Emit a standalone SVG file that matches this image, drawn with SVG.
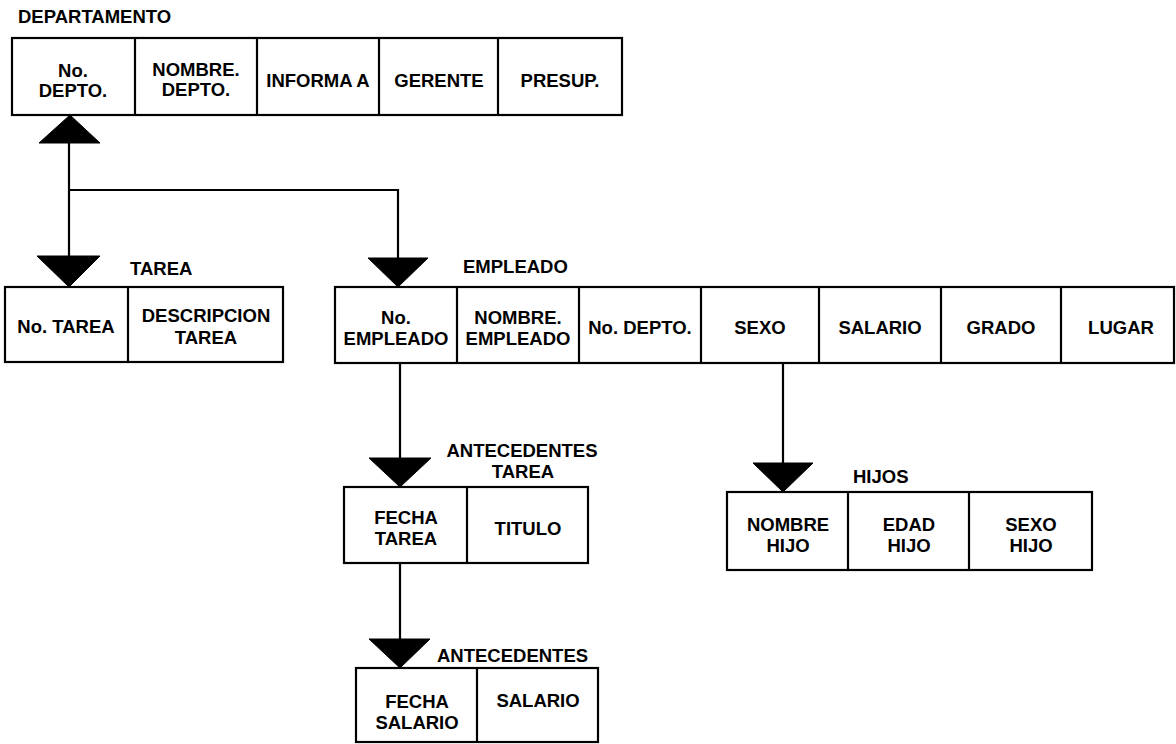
<svg xmlns="http://www.w3.org/2000/svg" width="1176" height="744" viewBox="0 0 1176 744">
<style>
text{font-family:"Liberation Sans",Arial,sans-serif;font-weight:bold;font-size:18.5px;fill:#000}
.c{text-anchor:middle}
.box{fill:#fff;stroke:#000;stroke-width:2.2}
.ln{stroke:#000;stroke-width:2.2;fill:none}
.tri{fill:#000;stroke:#000;stroke-width:1}
</style>
<rect width="1176" height="744" fill="#fff"/>
<g id="connectors">
<polyline class="ln" points="69,143 69,256"/>
<polyline class="ln" points="69,190 398,190 398,258"/>
<line class="ln" x1="400" y1="363" x2="400" y2="458"/>
<line class="ln" x1="400" y1="563" x2="400" y2="639"/>
<line class="ln" x1="783" y1="362" x2="783" y2="463"/>
<polygon class="tri" points="70,115 39,143 100,143"/>
<polygon class="tri" points="37,256 100,256 69,287"/>
<polygon class="tri" points="368,258 428,258 398,287"/>
<polygon class="tri" points="369,458 431,458 400,487"/>
<polygon class="tri" points="369,639 430,639 400,668"/>
<polygon class="tri" points="753,463 813,463 783,492"/>
</g>
<g id="departamento">
<text x="18" y="23">DEPARTAMENTO</text>
<rect class="box" x="12" y="38" width="610" height="77"/>
<line class="ln" x1="135" y1="38" x2="135" y2="115"/>
<line class="ln" x1="257" y1="38" x2="257" y2="115"/>
<line class="ln" x1="379" y1="38" x2="379" y2="115"/>
<line class="ln" x1="498" y1="38" x2="498" y2="115"/>
<text class="c" x="73" y="77">No.</text>
<text class="c" x="73" y="97">DEPTO.</text>
<text class="c" x="196" y="76">NOMBRE.</text>
<text class="c" x="196" y="96">DEPTO.</text>
<text class="c" x="318" y="87">INFORMA A</text>
<text class="c" x="439" y="87">GERENTE</text>
<text class="c" x="560" y="87">PRESUP.</text>
</g>
<g id="tarea">
<text x="130" y="275">TAREA</text>
<rect class="box" x="5" y="287" width="278" height="75"/>
<line class="ln" x1="128" y1="287" x2="128" y2="362"/>
<text class="c" x="66" y="333">No. TAREA</text>
<text class="c" x="206" y="322">DESCRIPCION</text>
<text class="c" x="206" y="344">TAREA</text>
</g>
<g id="empleado">
<text x="463" y="273">EMPLEADO</text>
<rect class="box" x="335" y="287" width="839" height="76"/>
<line class="ln" x1="457" y1="287" x2="457" y2="363"/>
<line class="ln" x1="579" y1="287" x2="579" y2="363"/>
<line class="ln" x1="701" y1="287" x2="701" y2="363"/>
<line class="ln" x1="819" y1="287" x2="819" y2="363"/>
<line class="ln" x1="941" y1="287" x2="941" y2="363"/>
<line class="ln" x1="1061" y1="287" x2="1061" y2="363"/>
<text class="c" x="396" y="324">No.</text>
<text class="c" x="396" y="345">EMPLEADO</text>
<text class="c" x="518" y="324">NOMBRE.</text>
<text class="c" x="518" y="345">EMPLEADO</text>
<text class="c" x="640" y="334">No. DEPTO.</text>
<text class="c" x="760" y="334">SEXO</text>
<text class="c" x="880" y="334">SALARIO</text>
<text class="c" x="1001" y="334">GRADO</text>
<text class="c" x="1121" y="334">LUGAR</text>
</g>
<g id="antecedentes-tarea">
<text class="c" x="522" y="457">ANTECEDENTES</text>
<text class="c" x="523" y="478">TAREA</text>
<rect class="box" x="344" y="487" width="244" height="76"/>
<line class="ln" x1="467" y1="487" x2="467" y2="563"/>
<text class="c" x="406" y="524">FECHA</text>
<text class="c" x="406" y="545">TAREA</text>
<text class="c" x="528" y="535">TITULO</text>
</g>
<g id="antecedentes">
<text x="437" y="662">ANTECEDENTES</text>
<rect class="box" x="356" y="668" width="242" height="74"/>
<line class="ln" x1="477" y1="668" x2="477" y2="742"/>
<text class="c" x="417" y="708">FECHA</text>
<text class="c" x="417" y="729">SALARIO</text>
<text class="c" x="538" y="707">SALARIO</text>
</g>
<g id="hijos">
<text x="853" y="483">HIJOS</text>
<rect class="box" x="727" y="492" width="365" height="78"/>
<line class="ln" x1="848" y1="492" x2="848" y2="570"/>
<line class="ln" x1="969" y1="492" x2="969" y2="570"/>
<text class="c" x="788" y="531">NOMBRE</text>
<text class="c" x="788" y="552">HIJO</text>
<text class="c" x="909" y="531">EDAD</text>
<text class="c" x="909" y="552">HIJO</text>
<text class="c" x="1031" y="531">SEXO</text>
<text class="c" x="1031" y="552">HIJO</text>
</g>
</svg>
